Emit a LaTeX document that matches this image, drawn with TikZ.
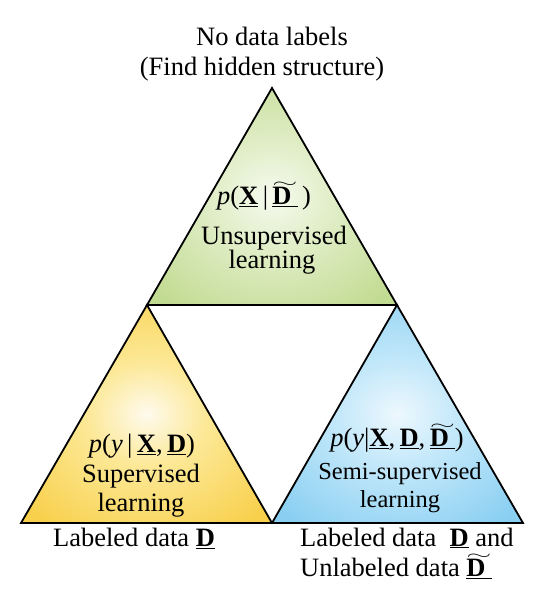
\documentclass[tikz,border=0pt]{standalone}
\usepackage{fontspec}
\usepackage{graphicx}
\setmainfont{Liberation Serif}
\definecolor{gEdge}{RGB}{194,219,146}
\definecolor{gMid}{RGB}{225,238,200}
\definecolor{yEdge}{RGB}{248,208,76}
\definecolor{yMid}{RGB}{252,232,150}
\definecolor{bEdge}{RGB}{138,207,242}
\definecolor{bMid}{RGB}{195,232,250}
\pgfdeclareradialshading{gshade}{\pgfpoint{0bp}{0bp}}{color(0bp)=(white!85!gEdge); color(12bp)=(gMid); color(32bp)=(gEdge); color(50bp)=(gEdge)}
\pgfdeclareradialshading{yshade}{\pgfpoint{0bp}{0bp}}{color(0bp)=(white!90!yEdge); color(12bp)=(yMid); color(32bp)=(yEdge); color(50bp)=(yEdge)}
\pgfdeclareradialshading{bshade}{\pgfpoint{0bp}{0bp}}{color(0bp)=(white!85!bEdge); color(12bp)=(bMid); color(32bp)=(bEdge); color(50bp)=(bEdge)}
\newcommand{\uX}{\underline{\textbf{X}}}
\newcommand{\uD}{\underline{\textbf{D}}}
\newcommand{\tildeD}{\ooalign{\hfil\smash{\raisebox{0.66em}{\scalebox{1.3}[0.6]{$\sim$}}}\hfil\cr\textbf{D}\cr}}
\newcommand{\uDt}{\underline{\tildeD}}
\tikzset{
  tri/.style={draw=black, line width=1.8pt, line join=miter},
  lbl/.style={anchor=base, inner sep=0pt, font=\fontsize{26.5}{30}\selectfont},
  lbls/.style={anchor=base, inner sep=0pt, font=\fontsize{24.5}{28}\selectfont},
}
\begin{document}
\begin{tikzpicture}[x=1pt,y=1pt]
\useasboundingbox (0,0) rectangle (541,598);
% corners
\coordinate (A) at (272,510);
\coordinate (L) at (147,293);
\coordinate (R) at (397,293);
\coordinate (BL) at (21,75);
\coordinate (BM) at (272,75);
\coordinate (BR) at (523,75);
% triangles
\shade[shading=gshade] (A) -- (L) -- (R) -- cycle;
\shade[shading=yshade] (L) -- (BL) -- (BM) -- cycle;
\shade[shading=bshade] (R) -- (BM) -- (BR) -- cycle;
\draw[tri] (A) -- (L) -- (R) -- cycle;
\draw[tri] (L) -- (BL) -- (BM) -- cycle;
\draw[tri] (R) -- (BM) -- (BR) -- cycle;
% top labels
\node[lbl] (t1) at (272,552) {No data labels};
\node[lbl] (t2) at (262,522) {(Find hidden structure)};
% top triangle
\node[lbl] (uf) at (264,393) {\textit{p}(\uX\,|\,\uDt\,)};
\node[lbl] (u1) at (274,353) {Unsupervised};
\node[lbl] (u2) at (272,329) {learning};
% left triangle
\node[lbl] (sf) at (142,145) {\textit{p}(\textit{y}\,|\,\uX,\,\uD)};
\node[lbl] (s1) at (141,115) {Supervised};
\node[lbl] (s2) at (141,86) {learning};
% right triangle
\node[lbl] (mf) at (397,151) {\textit{p}(\textit{y}|\uX,\,\uD,\,\uDt)};
\node[lbls] (m1) at (400,118) {Semi-supervised};
\node[lbls] (m2) at (400,90) {learning};
% bottom labels
\node[lbl] (b1) at (134,51) {Labeled data \uD};
\node[lbl, anchor=base west] (b2) at (300,52) {Labeled data \ \uD\ and};
\node[lbl, anchor=base west] (b3) at (300,21) {Unlabeled data \uDt};
\end{tikzpicture}
\end{document}
